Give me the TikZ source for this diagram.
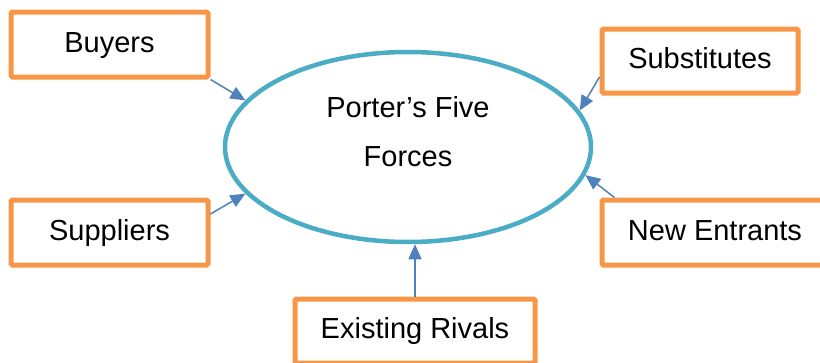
\documentclass[tikz,border=0pt]{standalone}
\usepackage{fontspec}
\setmainfont{Liberation Sans}
\usetikzlibrary{shapes.geometric,arrows.meta,calc}
\definecolor{boxorange}{HTML}{F79646}
\definecolor{ellblue}{HTML}{4BACC6}
\definecolor{arrowblue}{HTML}{4F81BD}
\begin{document}
\begin{tikzpicture}[x=1pt,y=-1pt,
  forcebox/.style={draw=boxorange,line width=5pt,rounded corners=1.5pt,fill=white,
    minimum width=197pt,minimum height=65pt,inner sep=0pt,
    text height=21.1pt,text depth=6pt,font=\fontsize{29}{34}\selectfont},
  link/.style={draw=arrowblue,line width=1.5pt,-{Triangle[length=15pt,width=13pt]}}]
\useasboundingbox (0,0) rectangle (820,362);
\node[ellipse,draw=ellblue,line width=4.5pt,minimum width=366pt,minimum height=190pt,inner sep=0pt] (ell) at (408,147) {};
\node[font=\fontsize{29}{49}\selectfont,align=center,yshift=15pt,inner sep=0pt] (title) at (ell.center) {Porter’s Five\\Forces};
\node[forcebox] (buyers) at (109.5,44.5) {Buyers};
\node[forcebox,minimum width=196pt,minimum height=64pt] (subs) at (700,61) {Substitutes};
\node[forcebox] (suppliers) at (109.5,232.5) {Suppliers};
\node[forcebox,minimum width=226pt] (entrants) at (715,232.5) {New Entrants};
\node[forcebox,minimum width=240pt,minimum height=64pt] (rivals) at (415,331) {Existing Rivals};
\draw[link] (buyers.south east) -- (ell.164.6);
\draw[link] ($(subs.west)+(0,16)$) -- (ell.12);
\draw[link] ($(suppliers.east)+(0,-18.5)$) -- (ell.196.9);
\draw[link] ($(entrants.north west)+(15,0)$) -- (ell.351.2);
\draw[link] (rivals.north) -- (rivals.north |- ell.south);
\end{tikzpicture}
\end{document}
